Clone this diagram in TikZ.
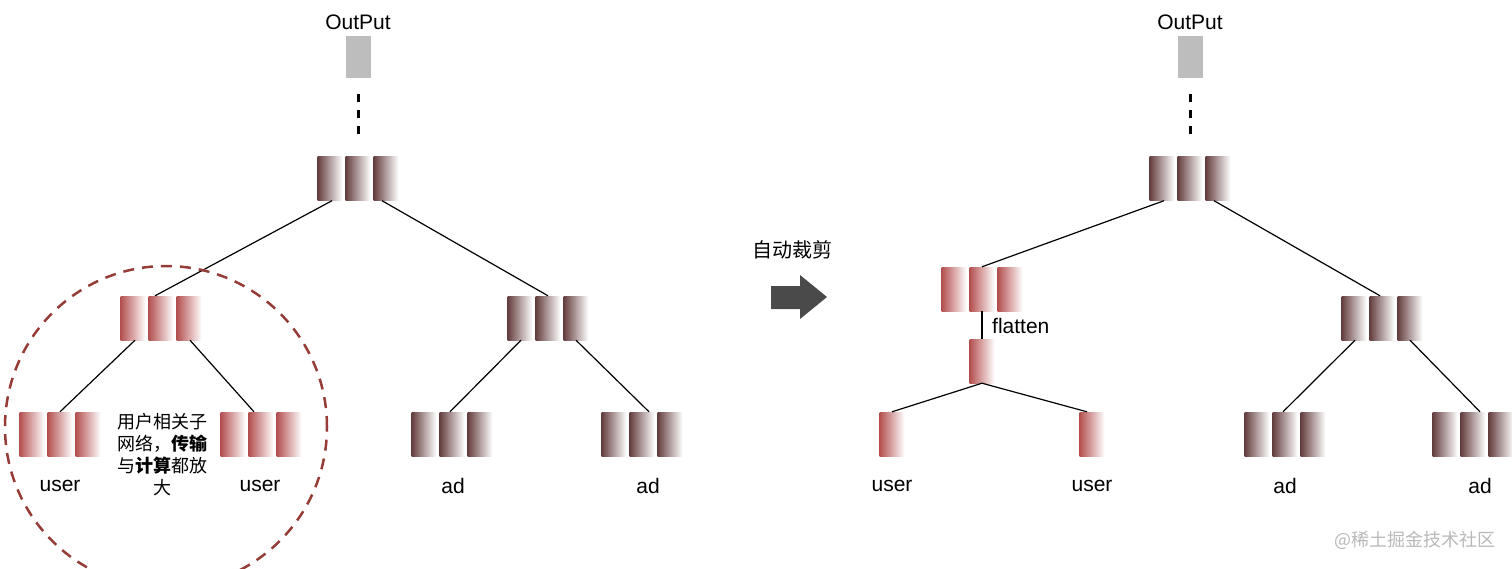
\documentclass[tikz,border=0pt]{standalone}
\usepackage{fontspec}
\setmainfont{Liberation Sans}
\newfontfamily\cjk{Noto Sans CJK SC}
\definecolor{barred}{RGB}{180,80,80}
\definecolor{bardark}{RGB}{100,62,62}
\definecolor{ringred}{RGB}{150,60,55}
\definecolor{outgray}{RGB}{189,189,189}
\definecolor{arrowgray}{RGB}{74,74,74}

\begin{document}
\begin{tikzpicture}[x=1pt, y=-1pt,
    bar/.style={rectangle, minimum width=25pt, minimum height=44pt, inner sep=0pt, right color=white},
    outbox/.style={rectangle, fill=outgray, minimum width=25pt, minimum height=42pt, inner sep=0pt},
    lbl/.style={font=\fontsize{21}{25}\selectfont, inner sep=0pt},
    cjklbl/.style={font=\cjk\fontsize{18}{22}\selectfont, inner sep=0pt},
    edge/.style={black, line width=1.2pt},
    link/.style={black, line width=3pt, dash pattern=on 8pt off 8pt},
    ring/.style={ringred, line width=2.5pt, dash pattern=on 11pt off 8pt},
    triple/.pic={
      \node[bar, left color=#1] (-l) at (-28,0) {};
      \node[bar, left color=#1] (-m) at (0,0) {};
      \node[bar, left color=#1] (-r) at (28,0) {};
      \node[minimum width=81pt, minimum height=44pt, inner sep=0pt] (-box) at (0,0) {};
    },
  ]
  \useasboundingbox (0,0) rectangle (1512,568);

  % Left tree
  \node[lbl] (outLt) at (358,22) {OutPut};
  \node[outbox] (outL) at (358,57) {};
  \pic (topL) at (358,178.5) {triple=bardark};
  \pic (userL) at (161,318) {triple=barred};
  \pic (adL) at (548,318) {triple=bardark};
  \pic (u1) at (60,434) {triple=barred};
  \pic (u2) at (261,434) {triple=barred};
  \pic (a1) at (452,434) {triple=bardark};
  \pic (a2) at (642,434) {triple=bardark};

  \draw[link, shorten <=16pt, shorten >=22pt] (outL.south) -- (topL-box.north);
  \draw[edge] ([xshift=-26pt]topL-box.south) -- ([xshift=-6pt]userL-box.north);
  \draw[edge] ([xshift=24pt]topL-box.south) -- (adL-box.north);
  \draw[edge] ([xshift=-26pt]userL-box.south) -- (u1-box.north);
  \draw[edge] ([xshift=29pt]userL-box.south) -- ([xshift=-7pt]u2-box.north);
  \draw[edge] ([xshift=-27pt]adL-box.south) -- ([xshift=-2pt]a1-box.north);
  \draw[edge] ([xshift=28pt]adL-box.south) -- ([xshift=7pt]a2-box.north);

  \node[lbl] (u1t) at (60,486) {user};
  \node[lbl] (u2t) at (260,486) {user};
  \node[lbl] (a1t) at (453,486) {ad};
  \node[lbl] (a2t) at (648,486) {ad};

  % Circle and note
  \draw[ring] (166,427) circle [radius=161pt];
  \node[cjklbl, align=center] (note) at (162,455)
    {用户相关子\\网络，{\bfseries 传输}\\与{\bfseries 计算}都放\\大};

  % Cut arrow
  \node[font=\cjk\fontsize{20}{24}\selectfont, inner sep=0pt] (cutt) at (792,250) {自动裁剪};
  \fill[arrowgray] (771,286) -- (800,286) -- (800,275) -- (827,297)
    -- (800,319) -- (800,309) -- (771,309) -- cycle;

  % Right tree
  \node[lbl] (outRt) at (1190,22) {OutPut};
  \node[outbox] (outR) at (1190,57) {};
  \pic (topR) at (1190,178.5) {triple=bardark};
  \pic (userR) at (982,289) {triple=barred};
  \node[bar, left color=barred] (flat) at (982,361) {};
  \node[bar, left color=barred] (u3) at (892,434) {};
  \node[bar, left color=barred] (u4) at (1092,434) {};
  \pic (adR) at (1382,318) {triple=bardark};
  \pic (a3) at (1285,434) {triple=bardark};
  \pic (a4) at (1473,434) {triple=bardark};

  \draw[link, shorten <=16pt, shorten >=22pt] (outR.south) -- (topR-box.north);
  \draw[edge] ([xshift=-26pt]topR-box.south) -- (userR-box.north);
  \draw[edge] ([xshift=24pt]topR-box.south) -- ([xshift=-2pt]adR-box.north);
  \draw[edge] (userR-box.south) -- (flat.north);
  \draw[edge] (flat.south) -- (u3.north);
  \draw[edge] (flat.south) -- ([xshift=-5pt]u4.north);
  \draw[edge] ([xshift=-27pt]adR-box.south) -- ([xshift=-2pt]a3-box.north);
  \draw[edge] ([xshift=28pt]adR-box.south) -- ([xshift=7pt]a4-box.north);

  \node[lbl, anchor=west] (flatt) at (992,326) {flatten};
  \node[lbl] (u3t) at (892,486) {user};
  \node[lbl] (u4t) at (1092,486) {user};
  \node[lbl] (a3t) at (1285,486) {ad};
  \node[lbl] (a4t) at (1480,486) {ad};

  % Watermark
  \node[cjklbl, text=gray!55] (mark) at (1415,540) {@稀土掘金技术社区};
\end{tikzpicture}
\end{document}
